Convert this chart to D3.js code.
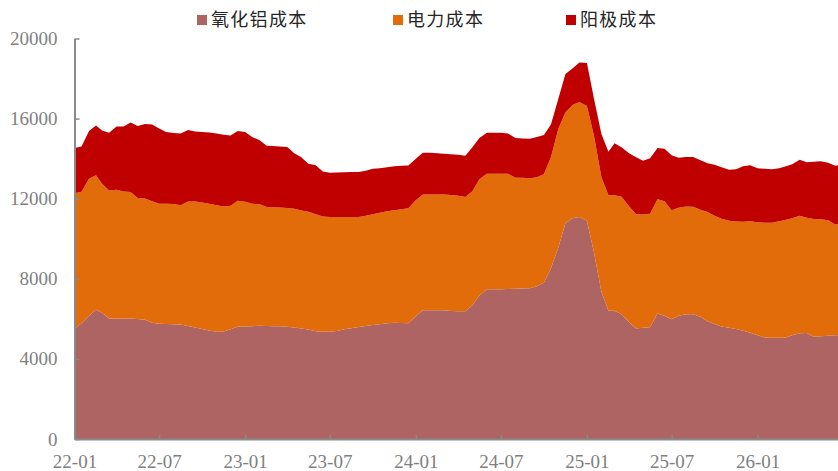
<!DOCTYPE html>
<html>
<head>
<meta charset="utf-8">
<script src="https://cdn.jsdelivr.net/npm/d3@7"></script>
<style>
    body { margin: 0; background: #fff; }
    .axis text { font-family: "Liberation Serif", "Times New Roman", serif; font-size: 19px; fill: #7f7f7f; }
    .axis path, .axis line { stroke: #898989; }
    .legend text { font-family: "Noto Sans CJK SC", sans-serif; font-size: 18px; fill: #262626; }
</style>
</head>
<body>
<script>
// semi-monthly points, 22-01 .. 26-06
var seriesNames = ["氧化铝成本", "电力成本", "阳极成本"];
var seriesColors = ["#ad6462", "#e36c0a", "#c00000"];

var aluminaCost = [5511,5786,6160,6459,6309,6015,6015,6020,6020,5995,5960,5810,5760,5745,5730,5720,5646,5571,5496,5421,5357,5372,5486,5611,
    5621,5636,5651,5641,5636,5626,5611,5566,5516,5471,5386,5362,5352,5396,5481,5536,5596,5646,5696,5736,5776,5805,5795,5786,
    6135,6424,6434,6434,6434,6394,6384,6384,6683,7157,7481,7481,7481,7491,7506,7516,7531,7631,7805,8529,9576,10773,11022,11087,
    10898,9327,7357,6409,6409,6234,5835,5521,5551,5586,6269,6160,5975,6160,6234,6234,6110,5885,5746,5621,5556,5496,5406,5307,
    5177,5067,5057,5052,5052,5187,5287,5297,5107,5137,5157,5177,5187];

var powerCost = [6758,6558,6832,6718,6434,6394,6429,6334,6314,6035,6045,6060,5986,6001,6001,5951,6214,6289,6309,6325,6314,6234,6160,6284,
    6224,6110,6070,5945,5935,5930,5930,5930,5895,5876,5836,5750,5735,5691,5606,5551,5491,5501,5526,5561,5596,5616,5676,5735,
    5785,5780,5770,5770,5770,5790,5761,5696,5686,5811,5771,5771,5771,5761,5536,5526,5496,5446,5412,5536,5935,5536,5661,5736,
    5735,5835,5710,5761,5761,5861,5786,5701,5661,5661,5701,5710,5446,5386,5372,5362,5336,5447,5401,5376,5342,5367,5442,5566,
    5646,5731,5741,5821,5881,5835,5860,5750,5876,5836,5766,5536,5536];

var anodeCost = [2260,2269,2395,2484,2668,2888,3167,3257,3476,3606,3731,3831,3765,3581,3556,3591,3576,3502,3522,3566,3591,3591,3516,3492,
    3482,3341,3192,3062,3057,3047,3037,2778,2654,2403,2444,2244,2205,2220,2240,2245,2245,2244,2269,2219,2204,2195,2170,2135,
    2070,2085,2095,2070,2045,2030,2044,2059,2195,2069,2045,2045,2045,2010,1985,1970,1970,2010,1970,1646,1496,1920,1821,1980,
    2145,1845,2160,2169,2593,2469,2643,2843,2678,2768,2559,2619,2744,2494,2474,2484,2479,2434,2544,2579,2553,2603,2768,2793,
    2703,2698,2668,2653,2673,2694,2793,2768,2867,2892,2867,2928,2943];

var yTicks = [0, 4000, 8000, 12000, 16000, 20000];

// dates: 1st and 16th of every month, last point 26-06-22
var dates = [];
d3.timeMonth.range(new Date(2022, 0, 1), new Date(2026, 6, 1)).forEach(function (m) {
    dates.push(m);
    dates.push(new Date(m.getFullYear(), m.getMonth(), 16));
});
dates.push(new Date(2026, 5, 22));

var rows = dates.map(function (d, i) {
    return { date: d, a: aluminaCost[i], p: powerCost[i], n: anodeCost[i] };
});

var width = 838, height = 471;

var svg = d3.select('body').append("svg")
    .attr("width", width)
    .attr("height", height);

var x = d3.scaleTime()
    .domain([dates[0], dates[dates.length - 1]])
    .range([74.5, 838]);

var y = d3.scaleLinear()
    .domain([0, 20000])
    .range([439, 38.5]);

var stack = d3.stack().keys(["a", "p", "n"]);
var layers = stack(rows);

var area = d3.area()
    .x(function (d) { return x(d.data.date); })
    .y0(function (d) { return y(d[0]); })
    .y1(function (d) { return y(d[1]); });

svg.selectAll(".layer")
    .data(layers)
    .enter()
    .append("path")
    .attr("class", "layer")
    .attr("fill", function (d, i) { return seriesColors[i]; })
    .attr("d", area);

// Y axis
var yAxis = d3.axisLeft(y).tickValues(yTicks).tickSizeInner(-5).tickSizeOuter(0).tickPadding(17)
    .tickFormat(d3.format("d"));
var gy = svg.append("g")
    .attr("class", "axis")
    .attr("transform", "translate(74.5,0)")
    .call(yAxis);
gy.select(".domain").attr("stroke-width", 2);
gy.selectAll(".tick line").attr("stroke-width", 1.5);

// X axis
var xAxis = d3.axisBottom(x)
    .tickValues(d3.timeMonth.every(6).range(new Date(2022, 0, 1), new Date(2026, 1, 1)))
    .tickFormat(d3.timeFormat("%y-%m"))
    .tickSizeInner(-4).tickSizeOuter(0).tickPadding(15.5);
var gx = svg.append("g")
    .attr("class", "axis")
    .attr("transform", "translate(0,439)")
    .call(xAxis);
gx.select(".domain").attr("stroke-width", 2);
gx.selectAll(".tick line").attr("stroke-width", 1.5);

// Legend
var legendX = [197, 393, 566];
var legend = svg.append("g").attr("class", "legend");
seriesNames.forEach(function (name, i) {
    legend.append("rect")
        .attr("x", legendX[i])
        .attr("y", 15)
        .attr("width", 10)
        .attr("height", 10)
        .attr("fill", seriesColors[i]);
    legend.append("text")
        .attr("x", legendX[i] + 14)
        .attr("y", 20)
        .attr("dy", "0.35em")
        .style("letter-spacing", "1.3px")
        .text(name);
});
</script>
</body>
</html>
